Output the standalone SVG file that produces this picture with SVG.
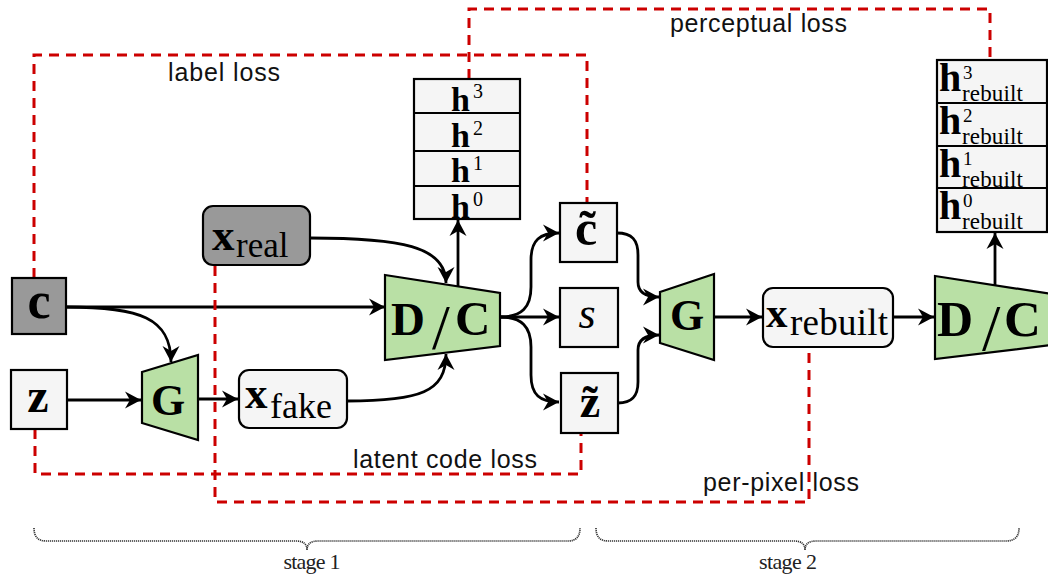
<svg xmlns="http://www.w3.org/2000/svg" width="1048" height="578" viewBox="0 0 1048 578">
  <style>
    .box { fill: #f5f5f5; stroke: #000; stroke-width: 2.2; }
    .dark { fill: #999999; stroke: #000; stroke-width: 2.2; }
    .net { fill: #b9e0a5; stroke: #000; stroke-width: 2.2; stroke-linejoin: miter; }
    .edge { fill: none; stroke: #000; stroke-width: 2.8; marker-end: url(#arrow); }
    .line { fill: none; stroke: #000; stroke-width: 2.2; }
    .loss { fill: none; stroke: #cc0000; stroke-width: 3; stroke-dasharray: 10 7; }
    .brace { fill: none; stroke: #333; stroke-width: 1.7; stroke-dasharray: 1.2 0.8; }
    .math { font-family: "Liberation Serif", "Times New Roman", serif; fill: #000; }
    .bf { font-weight: bold; }
    .it { font-style: italic; }
    .label { font-family: "Liberation Sans", Arial, sans-serif; font-size: 25px; fill: #111; }
    .stage { font-family: "Liberation Serif", "Times New Roman", serif; font-size: 22px; fill: #222; }
  </style>
  <defs>
    <marker id="arrow" markerUnits="userSpaceOnUse" markerWidth="17" markerHeight="18" viewBox="0 0 17 18" refX="16" refY="9" orient="auto">
      <path d="M0,0.5 L16,9 L0,17.5 L5,9 z" fill="#000"/>
    </marker>
  </defs>

  <rect width="1048" height="578" fill="#ffffff"/>

  <!-- connectors -->
  <g id="connectors">
    <path class="edge" d="M66,307 H385"/>
    <path class="edge" d="M66,307 C140,307 171,318 171,362"/>
    <path class="edge" d="M67,400 H141"/>
    <path class="edge" d="M198,399 H238"/>
    <path class="edge" d="M310,238 C400,238 446,246 446,283"/>
    <path class="edge" d="M347,401 C420,401 446,392 446,354"/>
    <path class="edge" d="M458,286 V220"/>
    <path class="edge" d="M500,317 C522,317 531,307 531,287 L531,260 C531,240 540,233 559,233"/>
    <path class="edge" d="M500,317 H559"/>
    <path class="edge" d="M500,317 C522,317 531,327 531,347 L531,375 C531,395 540,402 559,402"/>
    <path class="edge" d="M617,233 C632,233 638,240 638,255 L638,282 C638,292 645,297 659,297"/>
    <path class="edge" d="M618,403 C632,403 638,396 638,382 L638,350 C638,340 645,335 659,335"/>
    <path class="edge" d="M714,317 H762"/>
    <path class="edge" d="M893,317 H934"/>
    <path class="edge" d="M995,285 V233"/>
  </g>

  <!-- loss terms -->
  <g id="losses">
    <path class="loss" d="M34,278 V55 H587 V203"/>
    <path class="loss" d="M469,79 V9 H990 V60"/>
    <path class="loss" d="M35,429 V474 H581 V433"/>
    <path class="loss" d="M215,266 V502 H809 V347"/>
    <text class="label" x="168" y="81" textLength="112">label loss</text>
    <text class="label" x="670" y="32" textLength="177">perceptual loss</text>
    <text class="label" x="353" y="468" textLength="184">latent code loss</text>
    <text class="label" x="703" y="491" textLength="156">per-pixel loss</text>
  </g>

  <!-- inputs -->
  <g id="node-c">
    <rect class="dark" x="12" y="278" width="54" height="56"/>
    <text class="math bf" x="39" y="318" font-size="52" text-anchor="middle">c</text>
  </g>
  <g id="node-z">
    <rect class="box" x="11" y="370" width="56" height="59"/>
    <text class="math bf" x="38" y="412" font-size="48" text-anchor="middle">z</text>
  </g>
  <g id="node-xreal">
    <rect class="dark" x="203" y="206" width="107" height="59" rx="10"/>
    <text class="math" x="212" y="250"><tspan class="bf" font-size="45">x</tspan><tspan font-size="35" x="236" y="257">real</tspan></text>
  </g>

  <!-- stage 1 generator -->
  <g id="node-g1">
    <polygon class="net" points="142,372 198,355 198,440 142,423"/>
    <text class="math bf" x="168" y="415" font-size="44" text-anchor="middle">G</text>
  </g>
  <g id="node-xfake">
    <rect class="box" x="239" y="370" width="108" height="58" rx="10"/>
    <text class="math" x="245" y="408"><tspan class="bf" font-size="45">x</tspan><tspan font-size="36" x="270" y="418">fake</tspan></text>
  </g>

  <!-- stage 1 discriminator / classifier -->
  <g id="node-dc1">
    <polygon class="net" points="385,275 500,293 500,346 385,360"/>
    <text class="math bf" x="391" y="335" font-size="47">D</text>
    <text class="math" x="432" y="349" font-size="64">/</text>
    <text class="math bf" x="455" y="335" font-size="49">C</text>
  </g>
  <g id="node-h">
    <rect class="box" x="414" y="79" width="106" height="140"/>
    <path class="line" d="M414,113 H520 M414,151 H520 M414,186 H520"/>
    <text class="math bf" x="451" y="111" font-size="34">h</text>
    <text class="math" x="473" y="98" font-size="20">3</text>
    <text class="math bf" x="451" y="147" font-size="34">h</text>
    <text class="math" x="473" y="135" font-size="20">2</text>
    <text class="math bf" x="451" y="182" font-size="34">h</text>
    <text class="math" x="473" y="170" font-size="20">1</text>
    <text class="math bf" x="451" y="218" font-size="34">h</text>
    <text class="math" x="473" y="206" font-size="20">0</text>
  </g>

  <!-- outputs -->
  <g id="node-ctilde">
    <rect class="box" x="560" y="203" width="57" height="59"/>
    <text class="math bf" x="586" y="245" font-size="50" text-anchor="middle">c&#x303;</text>
  </g>
  <g id="node-s">
    <rect class="box" x="560" y="288" width="58" height="59"/>
    <text class="math it" x="587" y="328" font-size="44" text-anchor="middle">s</text>
  </g>
  <g id="node-ztilde">
    <rect class="box" x="561" y="373" width="57" height="60"/>
    <text class="math bf" x="590" y="417" font-size="46" text-anchor="middle">z&#x303;</text>
  </g>

  <!-- stage 2 -->
  <g id="node-g2">
    <polygon class="net" points="660,292 714,274 714,360 660,343"/>
    <text class="math bf" x="687" y="330" font-size="44" text-anchor="middle">G</text>
  </g>
  <g id="node-xrebuilt">
    <rect class="box" x="763" y="288" width="130" height="59" rx="10"/>
    <text class="math" x="766" y="327"><tspan class="bf" font-size="43">x</tspan><tspan font-size="37" x="790" y="335" textLength="98">rebuilt</tspan></text>
  </g>
  <g id="node-dc2">
    <polygon class="net" points="935,276 1052,294 1052,345 935,359"/>
    <text class="math bf" x="937" y="336" font-size="50">D</text>
    <text class="math" x="982" y="350" font-size="66">/</text>
    <text class="math bf" x="1004" y="336" font-size="51">C</text>
  </g>
  <g id="node-hrebuilt">
    <rect class="box" x="937" y="60" width="110" height="172"/>
    <path class="line" d="M937,103 H1047 M937,146 H1047 M937,188 H1047"/>
    <text class="math bf" x="939" y="91" font-size="40">h</text>
    <text class="math" x="963" y="79" font-size="19">3</text>
    <text class="math" x="962" y="101" font-size="23" textLength="61">rebuilt</text>
    <text class="math bf" x="939" y="134" font-size="40">h</text>
    <text class="math" x="963" y="122" font-size="19">2</text>
    <text class="math" x="962" y="144" font-size="23" textLength="61">rebuilt</text>
    <text class="math bf" x="939" y="177" font-size="40">h</text>
    <text class="math" x="963" y="165" font-size="19">1</text>
    <text class="math" x="962" y="187" font-size="23" textLength="61">rebuilt</text>
    <text class="math bf" x="939" y="219" font-size="40">h</text>
    <text class="math" x="963" y="207" font-size="19">0</text>
    <text class="math" x="962" y="229" font-size="23" textLength="61">rebuilt</text>
  </g>

  <!-- stage braces -->
  <g id="stages">
    <path class="brace" d="M34,528 Q34,541 46,541 H296 Q307,541 307,550 Q307,541 318,541 H568 Q580,541 580,528"/>
    <path class="brace" d="M596,528 Q596,541 608,541 H794 Q805,541 805,550 Q805,541 816,541 H1006 Q1019,541 1019,528"/>
    <text class="stage" x="312" y="569" text-anchor="middle" textLength="57">stage 1</text>
    <text class="stage" x="788" y="569" text-anchor="middle" textLength="58">stage 2</text>
  </g>
</svg>
